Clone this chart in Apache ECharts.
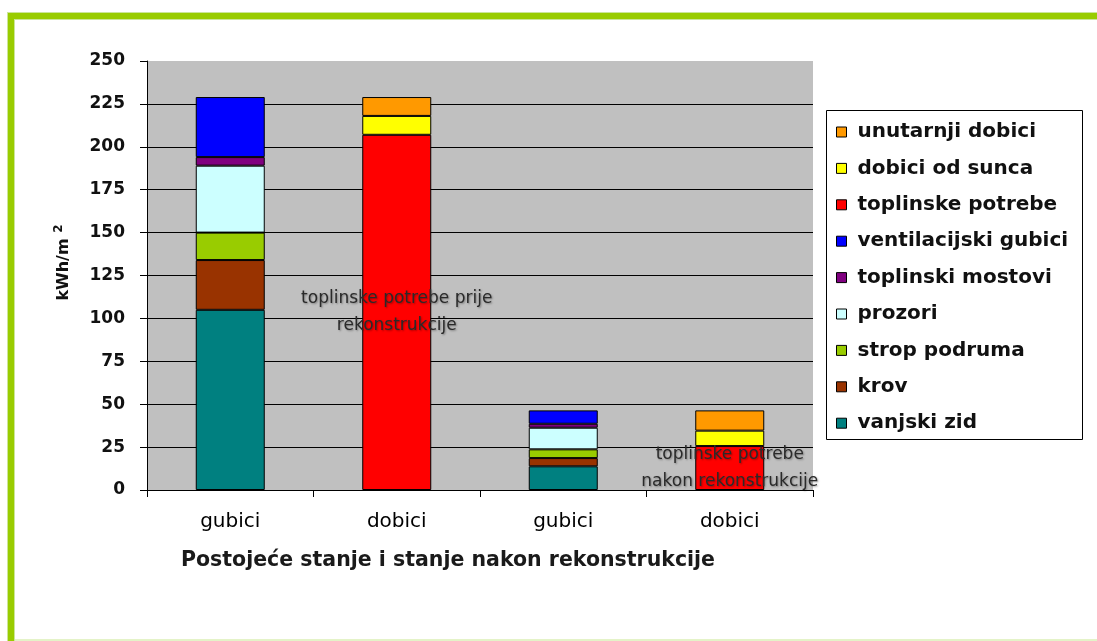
<!DOCTYPE html>
<html>
<head>
<meta charset="utf-8">
<script src="https://cdn.jsdelivr.net/npm/echarts@6/dist/echarts.min.js"></script>
<style>
html,body{margin:0;padding:0;background:#fff;}
#chart{width:1097px;height:641px;}
</style>
</head>
<body>
<div id="chart"></div>
<script>
var categories = ['gubici', 'dobici', 'gubici', 'dobici'];
var yTicks = [0, 25, 50, 75, 100, 125, 150, 175, 200, 225, 250];

var vanjskiZid          = [105,  null, 13.8, null];
var krov                = [29,   null, 4.8,  null];
var stropPodruma        = [16,   null, 5.1,  null];
var prozori             = [39,   null, 12.6, null];
var toplinskiMostovi    = [5,    null, 2.3,  null];
var ventilacijskiGubici = [35,   null, 7.8,  null];
var toplinskePotrebe    = [null, 207,  null, 25.6];
var dobiciOdSunca       = [null, 11,   null, 9];
var unutarnjiDobici     = [null, 11,   null, 11.8];
var annotations = [null, 'toplinske potrebe prije\nrekonstrukcije', null, 'toplinske potrebe\nnakon rekonstrukcije'];

var seriesNames = ['vanjski zid', 'krov', 'strop podruma', 'prozori', 'toplinski mostovi',
  'ventilacijski gubici', 'toplinske potrebe', 'dobici od sunca', 'unutarnji dobici'];
var seriesData = [vanjskiZid, krov, stropPodruma, prozori, toplinskiMostovi,
  ventilacijskiGubici, toplinskePotrebe, dobiciOdSunca, unutarnjiDobici];
var seriesColors = ['#008080', '#993300', '#99CC00', '#CCFFFF', '#800080',
  '#0000FF', '#FF0000', '#FFFF00', '#FF9900'];

var FONT = 'DejaVu Sans';

var series = seriesNames.map(function (name, i) {
  var s = {
    name: name,
    type: 'bar',
    stack: 'all',
    barWidth: 69,
    data: seriesData[i].slice(),
    itemStyle: { color: seriesColors[i], borderColor: '#000', borderWidth: 1 },
    emphasis: { disabled: true },
    animation: false
  };
  if (name === 'toplinske potrebe') {
    s.data = seriesData[i].map(function (v, k) {
      if (v == null) return null;
      return {
        value: v,
        label: {
          show: !!annotations[k],
          position: 'inside',
          formatter: annotations[k] || '',
          color: '#2a2a2a',
          fontFamily: FONT,
          fontSize: 17,
          lineHeight: 27,
          textBorderWidth: 0,
          textShadowColor: 'rgba(0,0,0,0.35)',
          textShadowBlur: 2,
          textShadowOffsetX: 1,
          textShadowOffsetY: 1
        }
      };
    });
  }
  return s;
});

var chart = echarts.init(document.getElementById('chart'));
chart.setOption({
  backgroundColor: '#fff',
  animation: false,
  textStyle: { fontFamily: FONT },
  grid: {
    left: 147, right: 284, top: 61, bottom: 151,
    show: true, backgroundColor: '#C0C0C0', borderWidth: 0
  },
  legend: {
    orient: 'vertical',
    left: 826, top: 110,
    padding: [12, 8, 7, 10],
    itemWidth: 10, itemHeight: 10,
    itemGap: 16.4,
    icon: 'rect',
    itemStyle: { borderColor: '#000', borderWidth: 1 },
    textStyle: { fontFamily: FONT, fontWeight: 'bold', fontSize: 20, color: '#111', lineHeight: 20, padding: [0, 0, 0, 6] },
    data: ['unutarnji dobici', 'dobici od sunca', 'toplinske potrebe', 'ventilacijski gubici',
      'toplinski mostovi', 'prozori', 'strop podruma', 'krov', 'vanjski zid'],
    selectedMode: false
  },
  graphic: [
    { type: 'rect', z: -1, shape: { x: 826.5, y: 110.5, width: 256, height: 329 },
      style: { fill: '#fff', stroke: '#000', lineWidth: 1 } },
    { type: 'rect', shape: { x: 7, y: 12, width: 1100, height: 8 }, style: { fill: '#CCE699' } },
    { type: 'rect', shape: { x: 7, y: 12, width: 8, height: 640 }, style: { fill: '#CCE699' } },
    { type: 'rect', shape: { x: 8, y: 13, width: 1100, height: 6 }, style: { fill: '#99CC00' } },
    { type: 'rect', shape: { x: 8, y: 13, width: 6, height: 640 }, style: { fill: '#99CC00' } },
    { type: 'rect', shape: { x: 15, y: 639, width: 1090, height: 2 }, style: { fill: '#E4F3C8' } }
  ],
  xAxis: {
    type: 'category',
    data: categories,
    boundaryGap: true,
    name: 'Postoje\u0107e stanje i stanje nakon rekonstrukcije',
    nameLocation: 'middle',
    nameGap: 60,
    nameTextStyle: { fontFamily: FONT, fontWeight: 'bold', fontSize: 20.5, color: '#1a1a1a', padding: [0, 64, 0, 0] },
    axisLine: { lineStyle: { color: '#000', width: 1 } },
    axisTick: { show: true, interval: 0, length: 7, lineStyle: { color: '#000' } },
    axisLabel: { margin: 22, fontFamily: FONT, fontSize: 20, color: '#000', interval: 0 }
  },
  yAxis: {
    type: 'value',
    min: 0, max: 250, interval: 25,
    name: 'kWh/m {sup|2}',
    nameLocation: 'middle',
    nameRotate: 90,
    nameGap: 72,
    nameTextStyle: {
      fontFamily: FONT, fontWeight: 'bold', fontSize: 16, color: '#111',
      padding: [0, 0, 0, 26],
      rich: { sup: { fontFamily: FONT, fontWeight: 'bold', fontSize: 12, color: '#111', padding: [0, 0, 10, 0] } }
    },
    axisLine: { show: true, lineStyle: { color: '#000', width: 1 } },
    axisTick: { show: true, length: 7, lineStyle: { color: '#000' } },
    axisLabel: {
      margin: 22, fontFamily: FONT, fontWeight: 'bold', fontSize: 17, color: '#111',
      formatter: function (v) { return yTicks.indexOf(v) >= 0 ? String(v) : ''; }
    },
    splitLine: { show: true, showMaxLine: false, lineStyle: { color: '#000', width: 1 } }
  },
  series: series
});
</script>
</body>
</html>
